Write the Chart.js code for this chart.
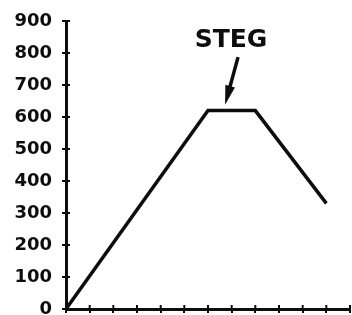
<!DOCTYPE html>
<html>
<head>
<meta charset="utf-8">
<script src="https://cdn.jsdelivr.net/npm/chart.js@4"></script>
<style>
  html, body { margin: 0; padding: 0; background: #fff; overflow: hidden; }
</style>
</head>
<body>
<canvas id="graph" width="352" height="315"></canvas>
<script>
"use strict";
// line points (x = time step, y = value)
const X_VALUES = [0, 6, 8, 11];
const Y_VALUES = [0, 620, 620, 330];
// annotation "STEG" with arrow pointing at the plateau
const NOTE_TEXT = "STEG";
const NOTE_POS = [6.97, 840];
const ARROW_FROM = [7.27, 787];
const ARROW_TO = [6.72, 638];

const INK = "#0d0d0d";

// draws the short inner half of each tick, so ticks cross the axis
const crossTicks = {
    id: "crossTicks",
    afterDraw(chart) {
        const ctx = chart.ctx;
        const xs = chart.scales.x, ys = chart.scales.y;
        const a = chart.chartArea;
        ctx.save();
        ctx.strokeStyle = INK;
        ctx.lineWidth = 2;
        ys.ticks.forEach(function (t, i) {
            const py = ys.getPixelForTick(i);
            ctx.beginPath();
            ctx.moveTo(a.left, py);
            ctx.lineTo(a.left + 4, py);
            ctx.stroke();
        });
        xs.ticks.forEach(function (t, i) {
            const px = xs.getPixelForTick(i);
            ctx.beginPath();
            ctx.moveTo(px, a.bottom);
            ctx.lineTo(px, a.bottom - 4);
            ctx.stroke();
        });
        // note + arrow
        ctx.fillStyle = INK;
        ctx.font = "bold 25px 'DejaVu Sans'";
        ctx.textAlign = "center";
        ctx.textBaseline = "middle";
        ctx.fillText(NOTE_TEXT, xs.getPixelForValue(NOTE_POS[0]), ys.getPixelForValue(NOTE_POS[1]));
        const x1 = xs.getPixelForValue(ARROW_FROM[0]), y1 = ys.getPixelForValue(ARROW_FROM[1]);
        const x2 = xs.getPixelForValue(ARROW_TO[0]), y2 = ys.getPixelForValue(ARROW_TO[1]);
        const ang = Math.atan2(y2 - y1, x2 - x1);
        ctx.lineWidth = 3.5;
        ctx.beginPath();
        ctx.moveTo(x1, y1);
        ctx.lineTo(x2 - 12 * Math.cos(ang), y2 - 12 * Math.sin(ang));
        ctx.stroke();
        ctx.beginPath();
        ctx.moveTo(x2, y2);
        ctx.lineTo(x2 - 20 * Math.cos(ang - 0.25), y2 - 20 * Math.sin(ang - 0.25));
        ctx.lineTo(x2 - 20 * Math.cos(ang + 0.25), y2 - 20 * Math.sin(ang + 0.25));
        ctx.closePath();
        ctx.fill();
        ctx.restore();
    },
};

function drawGraph() {
    const data = {
        datasets: [
            {
                data: X_VALUES.map(function (x, i) {
                    return { x: x, y: Y_VALUES[i] };
                }),
                borderColor: INK,
                borderWidth: 3.5,
                pointRadius: 0,
                tension: 0,
                showLine: true,
            },
        ],
    };
    const config = {
        type: "scatter",
        data,
        options: {
            animation: false,
            responsive: false,
            layout: { padding: { top: 21, right: 2, left: 0, bottom: 0 } },
            plugins: { legend: { display: false }, tooltip: { enabled: false } },
            scales: {
                x: {
                    type: "linear",
                    min: 0,
                    max: 12,
                    ticks: { stepSize: 1, display: false },
                    grid: { drawOnChartArea: false, tickLength: 4, color: INK, lineWidth: 2 },
                    border: { color: INK, width: 3 },
                    afterFit: function (s) { s.height = 6; s.paddingLeft = 0; s.paddingRight = 0; },
                },
                y: {
                    min: 0,
                    max: 900,
                    ticks: {
                        stepSize: 100,
                        padding: 10,
                        color: INK,
                        font: { family: "'DejaVu Sans'", size: 18, weight: "bold" },
                    },
                    grid: { drawOnChartArea: false, tickLength: 4, color: INK, lineWidth: 2 },
                    border: { color: INK, width: 3 },
                    afterFit: function (s) { s.width = 66; s.paddingTop = 0; s.paddingBottom = 0; },
                },
            },
        },
        plugins: [crossTicks],
    };
    new Chart(document.getElementById("graph"), config);
}
drawGraph();
</script>
</body>
</html>
